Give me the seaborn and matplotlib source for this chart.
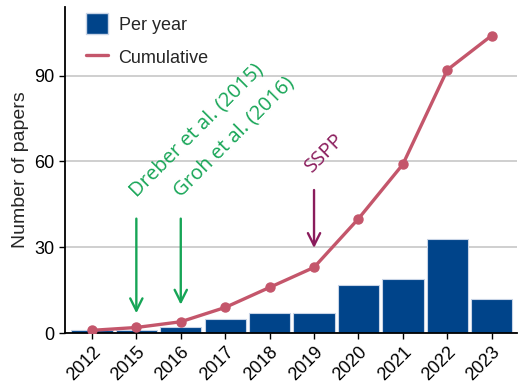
import matplotlib
matplotlib.use("Agg")
import matplotlib.pyplot as plt
from matplotlib.patches import Patch
from matplotlib.lines import Line2D
import seaborn as sns
import pandas as pd
import numpy as np

years = ["2012", "2015", "2016", "2017", "2018", "2019", "2020", "2021", "2022", "2023"]
per_year = [1, 1, 2, 5, 7, 7, 17, 19, 33, 12]
cumulative = [1, 2, 4, 9, 16, 23, 40, 59, 92, 104]
yticks = [0, 30, 60, 90]

sns.set_theme(style="white")
plt.rcParams["font.family"] = ["Liberation Sans", "DejaVu Sans"]

bar_color = "#00448a"
line_color = "#c4566b"
green = "#16a556"
purple = "#8a1c5c"

df = pd.DataFrame({"year": years, "per_year": per_year, "cumulative": cumulative})

fig, ax = plt.subplots(figsize=(5.18, 3.83), dpi=100)
sns.barplot(data=df, x="year", y="per_year", color=bar_color, width=0.93,
            saturation=1, edgecolor="#c8d4e6", linewidth=0.8, ax=ax, zorder=2)
ax.plot(np.arange(len(years)), df["cumulative"], color=line_color, lw=2.4,
        marker="o", markersize=6.5, zorder=3)

ax.set_xlim(-0.6, len(years) - 0.42)
ax.set_ylim(0, 114)
ax.set_yticks(yticks)
ax.yaxis.grid(True, color="#cccccc", lw=1.3, zorder=0)
ax.set_axisbelow(True)
for s in ["top", "right"]:
    ax.spines[s].set_visible(False)
for s in ["left", "bottom"]:
    ax.spines[s].set_color("black")
    ax.spines[s].set_linewidth(1.3)
ax.tick_params(axis="both", labelsize=13, colors="black", length=4, width=1.0, bottom=True, left=True)
plt.setp(ax.get_xticklabels(), rotation=45, ha="right", rotation_mode="anchor")
ax.set_xlabel("")
ax.set_ylabel("Number of papers", fontsize=14)

# event annotations
ann_font = ["Open Sans", "DejaVu Sans"]
ax.annotate("", xy=(1, 6.0), xytext=(1, 41), zorder=4,
            arrowprops=dict(arrowstyle="->", color=green, lw=1.7, mutation_scale=22))
ax.annotate("", xy=(2, 9.0), xytext=(2, 41), zorder=4,
            arrowprops=dict(arrowstyle="->", color=green, lw=1.7, mutation_scale=22))
ax.annotate("", xy=(5, 28.8), xytext=(5, 51), zorder=4,
            arrowprops=dict(arrowstyle="->", color=purple, lw=1.7, mutation_scale=22))
ax.text(1.0, 47.5, "Dreber et al. (2015)", rotation=45, rotation_mode="anchor",
        ha="left", va="baseline", color=green, fontsize=14.5, family=ann_font)
ax.text(2.0, 47.5, "Groh et al. (2016)", rotation=45, rotation_mode="anchor",
        ha="left", va="baseline", color=green, fontsize=14.5, family=ann_font)
ax.text(4.95, 56.0, "SSPP", rotation=45, rotation_mode="anchor",
        ha="left", va="baseline", color=purple, fontsize=14.5, family=ann_font)

handles = [Patch(facecolor=bar_color, edgecolor="#c8d4e6", label="Per year"),
           Line2D([], [], color=line_color, lw=2.4, label="Cumulative")]
ax.legend(handles=handles, loc="upper left", bbox_to_anchor=(0.01, 1.03), frameon=False,
          fontsize=13, handlelength=1.2, handleheight=1.4, labelspacing=0.7, handletextpad=0.6)

fig.subplots_adjust(left=0.126, right=0.999, top=0.982, bottom=0.13)
fig.savefig("out.png", dpi=100)
